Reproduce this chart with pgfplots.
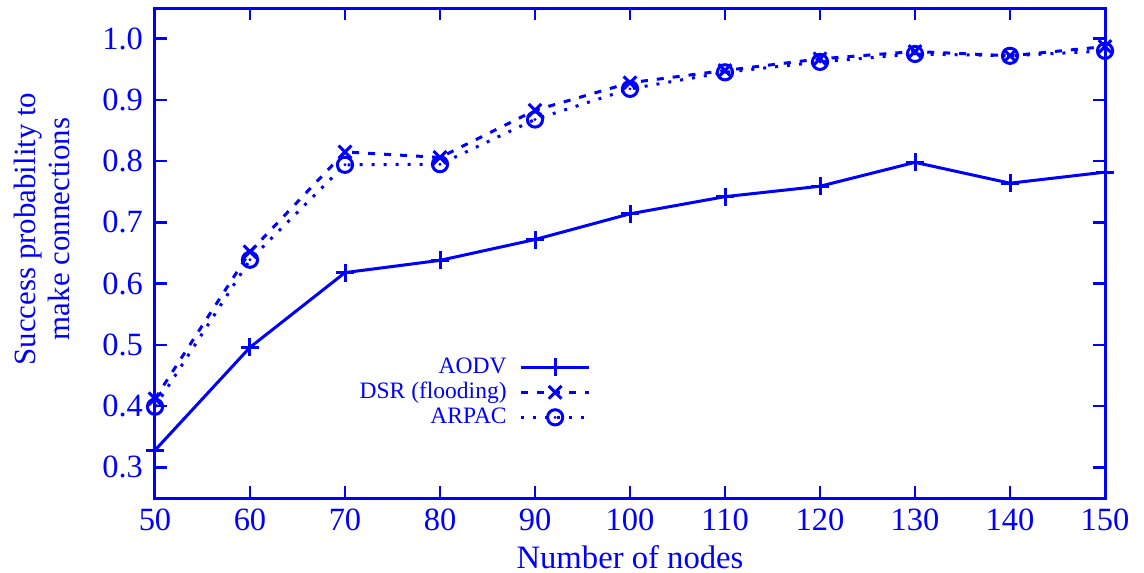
\documentclass[border=0pt]{standalone}
\usepackage{pgfplots}
\pgfplotsset{compat=1.18}
\usepackage{fontspec}
\setmainfont{Liberation Serif}
\definecolor{pblue}{RGB}{0,0,255}
\pgfdeclareplotmark{odot}{%
  \pgfpathcircle{\pgfpointorigin}{\pgfplotmarksize}\pgfusepathqstroke
  \pgfpathcircle{\pgfpointorigin}{0.8pt}\pgfusepathqfill}
\begin{document}
\begin{tikzpicture}
\useasboundingbox (-77.5bp,-37.5bp) rectangle (494.5bp,249bp);
\begin{axis}[
  at={(0,0)}, anchor=south west,
  scale only axis,
  width=475bp, height=245bp,
  xmin=50, xmax=150, ymin=0.25, ymax=1.05,
  xtick={50,60,...,150},
  ytick={0.3,0.4,...,1.0},
  yticklabel style={xshift=-2.5bp, /pgf/number format/fixed, /pgf/number format/fixed zerofill, /pgf/number format/precision=1},
  /pgf/number format/assume math mode=true,
  tick align=inside,
  major tick length=6bp,
  minor tick num=0,
  axis line style={pblue, line width=1.5bp},
  every tick/.style={pblue, line width=1.2bp},
  tick label style={font=\fontsize{16.3}{18}\selectfont, text=pblue},
  xticklabel style={yshift=-2bp},
  xlabel={Number of nodes},
  ylabel={Success probability to\\make connections},
  ylabel style={at={(axis description cs:-0.119,0.549)}, anchor=center, align=center,
    font=\fontsize{15.5}{17.5}\selectfont, text=pblue},
  xlabel style={at={(axis description cs:0.5,0)}, anchor=center, yshift=-29.5bp,
    font=\fontsize{16.4}{18}\selectfont, text=pblue},
  clip=false,
  legend plot pos=right,
  legend cell align=right,
  legend style={draw=none, fill=none, at={(axis description cs:0.459,0.292)}, anchor=north east,
    font=\fontsize{11.8}{12.5}\selectfont, text=pblue,
    inner sep=0pt, row sep=0.5bp, column sep=6bp,
    nodes={text height=8.5bp, text depth=2.5bp, inner sep=0.5bp}},
  legend image code/.code={%
    \draw[mark repeat=2, mark phase=2, #1] plot coordinates {(0bp,0bp) (17bp,0bp) (34bp,0bp)};},
]
\addplot[pblue, line width=1.5bp, mark=+, mark size=4.5bp, mark options={solid, line width=1.5bp}]
coordinates {(50,0.328) (60,0.496) (70,0.618) (80,0.638) (90,0.672) (100,0.714) (110,0.742) (120,0.759) (130,0.798) (140,0.764) (150,0.782)};
\addlegendentry{AODV}
\addplot[pblue, line width=1.5bp, dash pattern=on 3.5bp off 4.5bp, mark=x, mark size=4.5bp, mark options={solid, line width=1.5bp}]
coordinates {(50,0.412) (60,0.652) (70,0.815) (80,0.806) (90,0.883) (100,0.928) (110,0.948) (120,0.967) (130,0.979) (140,0.972) (150,0.987)};
\addlegendentry{DSR (flooding)}
\addplot[pblue, line width=1.5bp, dash pattern=on 1.5bp off 4.5bp, mark=odot, mark size=3.8bp, mark options={solid, line width=1.5bp}]
coordinates {(50,0.399) (60,0.639) (70,0.794) (80,0.795) (90,0.868) (100,0.918) (110,0.945) (120,0.962) (130,0.975) (140,0.972) (150,0.980)};
\addlegendentry{ARPAC}
\end{axis}
\end{tikzpicture}
\end{document}
